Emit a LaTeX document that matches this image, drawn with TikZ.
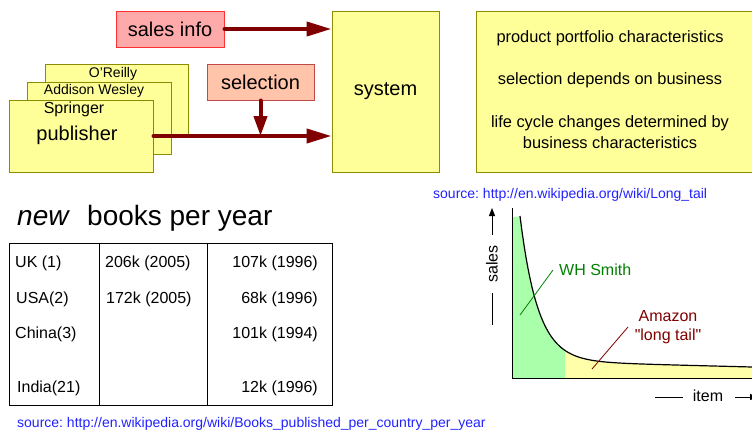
\documentclass[tikz,border=0pt]{standalone}
\usepackage{fontspec}
\setmainfont{Liberation Sans}
\usetikzlibrary{arrows.meta, calc}
\frenchspacing

\definecolor{boxyellow}{HTML}{FFFF99}
\definecolor{boxolive}{HTML}{8C8C00}
\definecolor{salespink}{HTML}{FFAAAA}
\definecolor{salesred}{HTML}{FF3030}
\definecolor{selsalmon}{HTML}{FFC4AA}
\definecolor{selborder}{HTML}{C04848}
\definecolor{flowred}{HTML}{800000}
\definecolor{headgreen}{HTML}{AAFFAA}
\definecolor{tailyellow}{HTML}{FFFFAA}
\definecolor{srcblue}{HTML}{2222FF}
\definecolor{smithgreen}{HTML}{008000}

\tikzset{
  bigtext/.style={font=\fontsize{20}{24}\selectfont},
  midtext/.style={font=\fontsize{16}{19}\selectfont},
  notetext/.style={font=\fontsize{16.4}{21}\selectfont},
  smalltext/.style={font=\fontsize{14}{17}\selectfont},
  yellowbox/.style={draw=boxolive, fill=boxyellow, line width=1pt, inner sep=0pt},
  flow/.style={draw=flowred, line width=4pt, line cap=round, -{Triangle[length=25pt,width=14pt]}},
  srctext/.style={smalltext, text=srcblue, anchor=base west, inner sep=0pt},
  cell/.style={midtext, anchor=base west, inner sep=0pt},
  cellr/.style={midtext, anchor=base east, inner sep=0pt}
}

\begin{document}
\begin{tikzpicture}[x=1pt, y=-1pt,
  declare function={salescurve(\x)=367-6*(752-\x)/232-145*exp(-(\x-520)/17.9);}]
    \useasboundingbox (0,0) rectangle (752,432);
    \clip (0,0) rectangle (752,432);

    % publishers
    \node [yellowbox, minimum width=143pt, minimum height=72pt] (oreilly) at (116.5,100) {};
    \node [yellowbox, minimum width=144pt, minimum height=72pt] (addison) at (99,118) {};
    \node [yellowbox, minimum width=144pt, minimum height=72pt] (publisher) at (81,136) {};
    \node [smalltext] (oreillytxt) at (113,74) {O'Reilly};
    \node [smalltext] (addisontxt) at (94,91) {Addison Wesley};
    \node [midtext] (springertxt) at (74,109) {Springer};
    \node [bigtext] (publishertxt) at (77,135) {publisher};

    \node [yellowbox, bigtext, minimum width=107pt, minimum height=161pt] (system) at (385.5,91.5) {system};
    \node [draw=salesred, fill=salespink, line width=1pt, bigtext, minimum width=108pt, minimum height=36pt, inner sep=0pt] (sales) at (170,29) {sales info};
    \node [draw=selborder, fill=selsalmon, line width=1pt, bigtext, minimum width=107pt, minimum height=36pt, inner sep=0pt] (selection) at (260.5,82) {selection};

    \draw [flow] (sales.east) -- (sales.east -| system.west);
    \draw [flow] (publisher.east) -- (publisher.east -| system.west);
    \draw [flow, -{Triangle[length=20pt,width=13pt]}] (selection.south) -- (selection.south |- publisher.east);

    % notes
    \node [yellowbox, anchor=north west, minimum width=284pt, minimum height=161pt] (notes) at (476,11) {};
    \node [notetext] (note1) at (610,38) {product portfolio characteristics};
    \node [notetext] (note2) at (610,80) {selection depends on business};
    \node [notetext, align=center] (note3) at (610,132.5) {life cycle changes determined by\\business characteristics};

    % books per year
    \node [font=\fontsize{28}{32}\selectfont\itshape, anchor=base west, inner sep=0pt] (newtxt) at (17,225) {new};
    \node [font=\fontsize{28}{32}\selectfont, anchor=base west, inner sep=0pt] (titletxt) at (87,225) {books per year};

    \draw [line width=1pt] (9,243) rectangle (332,405);
    \draw [line width=1pt] (99,243) -- (99,405);
    \draw [line width=1pt] (207,243) -- (207,405);

    \node [cell] (uk) at (15,267.5) {UK (1)};
    \node [cell] (usa) at (16,303) {USA(2)};
    \node [cell] (china) at (15,338.5) {China(3)};
    \node [cell] (india) at (17,392.5) {India(21)};
    \node [cell] (uknew) at (105,267.5) {206k (2005)};
    \node [cell] (usanew) at (106,303) {172k (2005)};
    \node [cellr] (ukold) at (318,267.5) {107k (1996)};
    \node [cellr] (usaold) at (318,303) {68k (1996)};
    \node [cellr] (chinaold) at (318,338.5) {101k (1994)};
    \node [cellr] (indiaold) at (318,392.5) {12k (1996)};

    \node [srctext] (booksrc) at (17,427) {source: http://en.wikipedia.org/wiki/Books\_published\_per\_country\_per\_year};

    % long tail
    \node [srctext] (tailsrc) at (433,198) {source: http://en.wikipedia.org/wiki/Long\_tail};

    \fill [headgreen] (512,217) -- (520,217) -- plot [domain=520:565, samples=40] (\x, {salescurve(\x)}) -- (565,378) -- (512,378) -- cycle;
    \fill [tailyellow] (565,{salescurve(565)}) -- plot [domain=565:752, samples=40] (\x, {salescurve(\x)}) -- (752,378) -- (565,378) -- cycle;
    \draw [line width=1.2pt] plot [domain=520:752, samples=120] (\x, {salescurve(\x)});
    \draw [line width=1pt] (512,208) -- (512,378) -- (760,378);

    \node [midtext, rotate=90] (saleslbl) at (492,264) {sales};
    \draw [line width=1pt] (492,293) -- (492,325);
    \draw [line width=1pt, -{Triangle[length=8pt,width=6pt]}] (492,235) -- (492,208);
    \node [midtext] (itemlbl) at (708,396) {item};
    \draw [line width=1pt] (655,397) -- (683,397);
    \draw [line width=1pt, -{Triangle[length=8pt,width=6pt]}] (735,397) -- (758,397);

    \node [midtext, text=smithgreen, anchor=west, inner sep=0pt] (whsmith) at (559,270) {WH Smith};
    \coordinate (smithpt) at (520,315);
    \draw [smithgreen, line width=0.8pt] (553,270) -- (smithpt);

    \node [midtext, text=flowred, align=center] (amazon) at (668,327.5) {Amazon\\\textquotedbl long tail\textquotedbl};
    \coordinate (amazonpt) at (628,327);
    \coordinate (tailpt) at (592,369);
    \draw [flowred, line width=0.8pt] (amazonpt) -- (tailpt);
\end{tikzpicture}
\end{document}
